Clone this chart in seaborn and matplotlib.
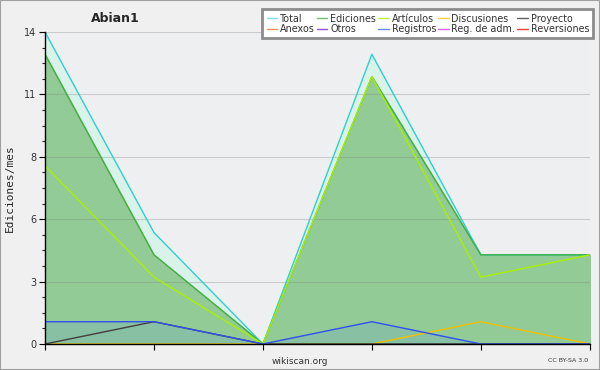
import numpy as np
import pandas as pd
import matplotlib
matplotlib.use("Agg")
import matplotlib.pyplot as plt
from matplotlib.lines import Line2D
from matplotlib.patches import Rectangle
from matplotlib.ticker import FixedLocator, MultipleLocator
import seaborn as sns

# monthly edits, 6 months
months = [0, 1, 2, 3, 4, 5]
total = [14, 5, 0, 13, 4, 4]
ediciones = [13, 4, 0, 12, 4, 4]
articulos = [8, 3, 0, 12, 3, 4]
discusiones = [0, 0, 0, 0, 1, 0]
proyecto = [0, 1, 0, 0, 0, 0]
registros = [1, 1, 0, 1, 0, 0]

legend_labels = ["Total", "Ediciones", "Artículos", "Discusiones", "Proyecto",
                 "Anexos", "Otros", "Registros", "Reg. de adm.", "Reversiones"]
legend_colors = ["#7fe0e0", "#70c070", "#c0f040", "#f8d040", "#606060",
                 "#f89060", "#9050e0", "#7088f8", "#e060f0", "#f04040"]

line_colors = {"Total": "#30d0d0", "Ediciones": "#40b040", "Artículos": "#a8f000",
               "Discusiones": "#f0c000", "Proyecto": "#404040", "Registros": "#3050f0"}

df = pd.DataFrame({
    "mes": months * 6,
    "valor": total + ediciones + articulos + discusiones + proyecto + registros,
    "serie": (["Total"] * 6 + ["Ediciones"] * 6 + ["Artículos"] * 6
              + ["Discusiones"] * 6 + ["Proyecto"] * 6 + ["Registros"] * 6),
})

sns.set_style("white")
fig = plt.figure(figsize=(6, 3.7), dpi=100, facecolor="#f0f0f0")
ax = fig.add_axes([0.075, 0.0703, 0.908, 0.8432])
ax.set_facecolor("#eeeff1")

ax.fill_between(months, total, color="#d9f2ea", zorder=1)
ax.fill_between(months, ediciones, color="#92cb96", zorder=1.1)
ax.fill_between(months, registros, color="#88c0a4", zorder=1.2)

sns.lineplot(data=df, x="mes", y="valor", hue="serie", palette=line_colors,
             linewidth=1, legend=False, ax=ax, zorder=3)

ax.set_xlim(0, 5)
ax.set_ylim(0, 14)
ax.set_xticks(months)
ax.set_xticklabels([])
ax.yaxis.set_major_locator(FixedLocator([0, 2.8, 5.6, 8.4, 11.2, 14]))
ax.set_yticklabels(["0", "3", "6", "8", "11", "14"])
ax.yaxis.set_minor_locator(MultipleLocator(0.7))
ax.tick_params(axis="both", which="major", direction="out", length=4, width=0.8,
               labelsize=7, colors="black", pad=2)
ax.tick_params(axis="y", which="minor", direction="out", length=2.5, width=0.8)
ax.tick_params(axis="x", bottom=True)
ax.tick_params(axis="y", left=True, which="both")
for lab in ax.get_yticklabels():
    lab.set_color("#333333")
ax.grid(axis="y", color="#888888", alpha=0.35, linewidth=0.8, zorder=2)
ax.set_axisbelow(False)
for s in ["top", "right"]:
    ax.spines[s].set_visible(False)
for s in ["left", "bottom"]:
    ax.spines[s].set_color("black")
    ax.spines[s].set_linewidth(1)
    ax.spines[s].set_zorder(4)

ax.set_xlabel("")
ax.set_ylabel("Ediciones/mes", fontsize=8, family="DejaVu Sans Mono", labelpad=7)

handles = [Line2D([0], [0], color=c, lw=1) for c in legend_colors]
order = [0, 5, 1, 6, 2, 7, 3, 8, 4, 9]
leg = fig.legend([handles[i] for i in order], [legend_labels[i] for i in order],
                 ncol=5, loc="upper right", bbox_to_anchor=(0.997, 0.988),
                 fontsize=6.9, handlelength=1.1, handletextpad=0.3, columnspacing=0.2,
                 labelspacing=0.05, borderpad=0.45, frameon=True, fancybox=False,
                 framealpha=1)
leg.get_frame().set_edgecolor("#8c8c8c")
leg.get_frame().set_linewidth(2)
leg.get_frame().set_facecolor("white")
for t in leg.get_texts():
    t.set_color("#333333")

fig.text(115 / 600, 1 - 18 / 370, "Abian1", fontsize=9, fontweight="bold",
         ha="center", va="center")
fig.text(0.5, 1 - 361 / 370, "wikiscan.org", fontsize=6.5, color="#333333",
         ha="center", va="center")
fig.text(0.98, 1 - 361 / 370, "CC BY-SA 3.0", fontsize=4.5, color="#333333",
         ha="right", va="center")
fig.patches.append(Rectangle((0, 0), 1, 1, transform=fig.transFigure, fill=False,
                             edgecolor="#a0a0a0", linewidth=1.5))

fig.savefig("out.png", dpi=100, facecolor=fig.get_facecolor())
